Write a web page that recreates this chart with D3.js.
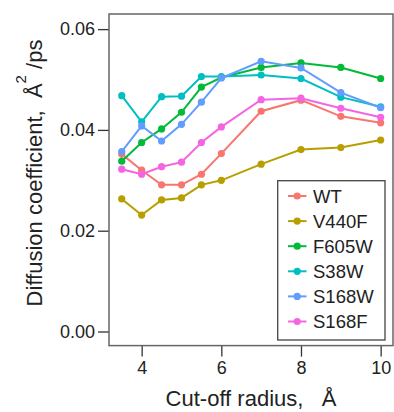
<!DOCTYPE html>
<html>
<head>
<meta charset="utf-8">
<script src="https://cdn.jsdelivr.net/npm/d3@7"></script>
<style>
  body { margin: 0; background: #fff; }
  svg text { font-family: "Liberation Sans", Arial, sans-serif; fill: #222; white-space: pre; }
</style>
</head>
<body>
<script>
const radius = [3.5, 4, 4.5, 5, 5.5, 6, 7, 8, 9, 10]

const seriesNames = ['WT', 'V440F', 'F605W', 'S38W', 'S168W', 'S168F']
const seriesColors = ['#F8766D', '#B79F00', '#00BA38', '#00BFC4', '#619CFF', '#F564E3']

const wt    = [0.0352, 0.0320, 0.0291, 0.0291, 0.0312, 0.0353, 0.0437, 0.0459, 0.0427, 0.0414]
const v440f = [0.0263, 0.0231, 0.0261, 0.0265, 0.0291, 0.0300, 0.0332, 0.0361, 0.0365, 0.0380]
const f605w = [0.0338, 0.0375, 0.0402, 0.0435, 0.0485, 0.0504, 0.0524, 0.0533, 0.0524, 0.0502]
const s38w  = [0.0468, 0.0416, 0.0466, 0.0467, 0.0506, 0.0506, 0.0509, 0.0502, 0.0465, 0.0446]
const s168w = [0.0357, 0.0408, 0.0378, 0.0411, 0.0455, 0.0503, 0.0536, 0.0523, 0.0474, 0.0444]
const s168f = [0.0322, 0.0312, 0.0327, 0.0336, 0.0375, 0.0406, 0.0460, 0.0463, 0.0443, 0.0425]

const xTicks = [4, 6, 8, 10]
const yTicks = [0, 0.02, 0.04, 0.06]

const allSeries = [wt, v440f, f605w, s38w, s168w, s168f]

let width = 394
let height = 412
let plot = { left: 109, right: 393, top: 14, bottom: 345.6 }

const svg = d3.select("body")
  .append("svg")
  .attr("width", width)
  .attr("height", height)

const x = d3.scaleLinear().domain([3.18, 10.31]).range([plot.left, plot.right])
const y = d3.scaleLinear().domain([-0.0028, 0.063]).range([plot.bottom, plot.top])

// axes
const xAxis = svg.append("g")
  .attr("transform", `translate(0,${plot.bottom})`)
  .call(d3.axisBottom(x).tickValues(xTicks).tickFormat(d3.format("d")).tickSize(11).tickPadding(5))
xAxis.select(".domain").remove()

const yAxis = svg.append("g")
  .attr("transform", `translate(${plot.left},0)`)
  .call(d3.axisLeft(y).tickValues(yTicks).tickFormat(d3.format(".2f")).tickSize(11).tickPadding(3))
yAxis.select(".domain").remove()

svg.selectAll(".tick line").attr("stroke", "#333").attr("stroke-width", 1.3)
svg.selectAll(".tick text").attr("font-size", 18).attr("fill", "#222")
  .style("font-family", '"Liberation Sans", Arial, sans-serif')

// frame
svg.append("rect")
  .attr("x", plot.left)
  .attr("y", plot.top)
  .attr("width", plot.right - plot.left)
  .attr("height", plot.bottom - plot.top)
  .attr("fill", "none")
  .attr("stroke", "#666")
  .attr("stroke-width", 1.5)

// series
const line = d3.line().x((d, i) => x(radius[i])).y(d => y(d))

allSeries.forEach((vals, k) => {
  const g = svg.append("g")
  g.append("path")
    .attr("d", line(vals))
    .attr("fill", "none")
    .attr("stroke", seriesColors[k])
    .attr("stroke-width", 2)
  g.selectAll("circle")
    .data(vals)
    .enter().append("circle")
    .attr("cx", (d, i) => x(radius[i]))
    .attr("cy", d => y(d))
    .attr("r", 3.6)
    .attr("fill", seriesColors[k])
})

// legend
const legend = svg.append("g")
legend.append("rect")
  .attr("x", 277.7).attr("y", 180.7)
  .attr("width", 107.3).attr("height", 159.3)
  .attr("fill", "#fff").attr("stroke", "#444").attr("stroke-width", 1.3)

seriesNames.forEach((name, k) => {
  const ly = 196 + k * 25.1
  legend.append("line")
    .attr("x1", 288).attr("x2", 306.5)
    .attr("y1", ly).attr("y2", ly)
    .attr("stroke", seriesColors[k]).attr("stroke-width", 2)
  legend.append("circle")
    .attr("cx", 297.2).attr("cy", ly).attr("r", 3.6)
    .attr("fill", seriesColors[k])
  legend.append("text")
    .attr("x", 313).attr("y", ly + 6.6)
    .attr("font-size", 18.5)
    .text(name)
})

// axis titles
svg.append("text")
  .attr("x", 251).attr("y", 406)
  .attr("text-anchor", "middle")
  .attr("font-size", 22)
  .text("Cut-off radius,   Å")

const yt = svg.append("text")
  .attr("transform", "translate(42,173) rotate(-90)")
  .attr("text-anchor", "middle")
  .attr("font-size", 22)
yt.append("tspan").text("Diffusion coefficient,  Å")
yt.append("tspan").attr("font-size", 15).attr("dy", -16).text("2")
yt.append("tspan").attr("dy", 16).text(" /ps")
</script>
</body>
</html>
